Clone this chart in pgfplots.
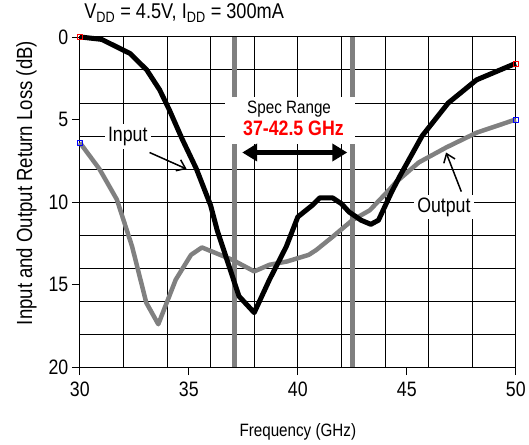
\documentclass[border=0pt]{standalone}
\usepackage{pgfplots}
\pgfplotsset{compat=1.18}
\usepackage{fontspec}
\setmainfont{Liberation Sans}[FakeStretch=0.85]
\usetikzlibrary{arrows.meta}
\definecolor{specgray}{RGB}{128,128,128}
\begin{document}
\begin{tikzpicture}
\begin{axis}[name=ax, width=437bp, height=331bp, scale only axis,
  xmin=30, xmax=50, ymin=0, ymax=20, y dir=reverse,
  xtick={30,35,...,50}, ytick={0,5,...,20},
  minor xtick={32,34,...,48}, minor ytick={2,4,...,18},
  grid=minor, minor grid style={black, line width=0.9bp},
  axis line style={black, line width=0.9bp},
  major tick length=8bp, minor tick length=0pt,
  tick align=outside, tick pos=left,
  major tick style={black, line width=0.8bp},
  ticklabel style={font=\fontsize{21}{21}\selectfont},
  xticklabel style={yshift=-3bp},
  /pgf/number format/assume math mode=true,
  xlabel={Frequency (GHz)}, ylabel={Input and Output Return Loss (dB)},
  xlabel style={font=\fontsize{18}{18}\selectfont, yshift=-20bp},
  ylabel style={font=\fontsize{22}{22}\selectfont, yshift=5bp, xshift=19bp},
  clip=false]
% spec range lines
\addplot[specgray, line width=5bp, forget plot] coordinates {(37.1,0) (37.1,20)};
\addplot[specgray, line width=5bp, forget plot] coordinates {(42.5,0) (42.5,20)};
% Output
\addplot[specgray, line width=4.5bp, line join=round, mark=square, mark size=2.5bp,
  mark indices={1,24}, mark options={draw=blue, fill=none, line width=0.6bp}] coordinates {
(30,6.4) (30.9,8.0) (31.7,9.85) (32.4,12.7) (33.05,16.1) (33.6,17.4) (34.4,14.7)
(35.1,13.2) (35.6,12.75) (37.0,13.5) (38.0,14.2) (38.7,13.8) (39.5,13.6) (40.5,13.2)
(40.85,12.9) (41.6,12.1) (42.5,11.1) (43.3,10.5) (44.2,9.25) (44.5,8.8) (45.55,7.6)
(46.8,6.7) (48.2,5.8) (50,5.0)};
% Input
\addplot[black, line width=5bp, line join=round, mark=square, mark size=2.5bp,
  mark indices={1,30}, mark options={draw=red, fill=none, line width=0.6bp}] coordinates {
(30,0) (31,0.15) (32.3,1.0) (33.07,2.0) (33.66,3.2) (34.1,4.4) (34.7,6.2) (35.35,8.0)
(36.0,10.2) (36.3,11.7) (36.9,14.1) (37.3,15.7) (38.0,16.7) (38.7,14.7) (39.47,12.7)
(40.0,10.9) (40.66,10.2) (41.0,9.75) (41.6,9.75) (42.0,10.1) (42.35,10.6) (42.9,11.1)
(43.35,11.35) (43.7,11.1) (44.3,9.4) (44.65,8.5) (45.7,6.0) (46.9,4.0) (48.2,2.6) (50,1.6)};
% white box and spec text
\fill[white] (axis cs:36.64,3.63) rectangle (axis cs:42.63,6.47);
\node[font=\fontsize{18}{18}\selectfont] at (axis cs:39.6,4.35) {Spec Range};
\node[font=\fontsize{21}{21}\selectfont\bfseries, text=red] at (axis cs:39.8,5.55) {37-42.5 GHz};
\draw[line width=5bp, {Triangle[length=15bp,width=17bp]}-{Triangle[length=15bp,width=17bp]}]
  (axis cs:37.45,7.0) -- (axis cs:42.27,7.0);
% labels
\node[fill=white, inner sep=3bp, font=\fontsize{21}{21}\selectfont] at (axis cs:32.2,6.05) {Input};
\draw[line width=1.5bp, -{Straight Barb[length=8bp,width=12bp]}] (axis cs:33.2,7.0) -- (axis cs:34.9,8.0);
\node[fill=white, inner sep=3bp, font=\fontsize{21}{21}\selectfont] at (axis cs:46.7,10.3) {Output};
\draw[line width=1.5bp, -{Straight Barb[length=8bp,width=12bp]}] (axis cs:47.5,9.37) -- (axis cs:46.8,7.0);
\end{axis}
\node[anchor=base west, font=\fontsize{21.5}{21.5}\selectfont] at ([xshift=1bp,yshift=18bp]ax.north west)
  {V\textsubscript{DD} = 4.5V, I\textsubscript{DD} = 300mA};
\path ([xshift=-80bp,yshift=-78bp]ax.south west) rectangle ([xshift=12bp,yshift=37bp]ax.north east);
\end{tikzpicture}
\end{document}
